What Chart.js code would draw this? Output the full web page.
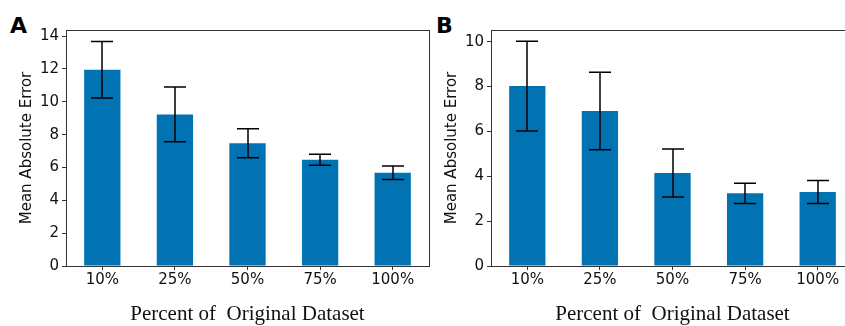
<!DOCTYPE html>
<html>
<head>
<meta charset="utf-8">
<script src="https://cdn.jsdelivr.net/npm/chart.js@4.4.0/dist/chart.umd.min.js"></script>
<style>
  body { margin: 0; width: 845px; height: 326px; overflow: hidden; background: #fff; position: relative; }
  canvas { position: absolute; top: 0; }
  .tag { position: absolute; font: bold 22px "DejaVu Sans"; line-height: 22px; color: #000; }
</style>
</head>
<body>
<div class="tag" style="left:10px; top:15px">A</div>
<div class="tag" style="left:436px; top:15px">B</div>
<canvas id="chartA" width="430" height="326" style="left:0"></canvas>
<canvas id="chartB" width="460" height="326" style="left:420px"></canvas>
<script>
// categories (share of the original dataset)
var categories = ['10%', '25%', '50%', '75%', '100%'];

// panel A: mean absolute error and error bar half-widths
var maeA = [11.95, 9.23, 7.47, 6.47, 5.68];
var errA = [1.72, 1.67, 0.88, 0.34, 0.41];

// panel B
var maeB = [8.02, 6.91, 4.15, 3.24, 3.30];
var errB = [2.0, 1.73, 1.07, 0.45, 0.51];

var barColor = '#0173b2';
var axisColor = '#333333';

// draws the +/- error bars with caps on top of the bars
var errorBarPlugin = {
  id: 'errorBars',
  afterDatasetsDraw: function(chart) {
    var ctx = chart.ctx;
    var yScale = chart.scales.y;
    var meta = chart.getDatasetMeta(0);
    var ds = chart.data.datasets[0];
    ctx.save();
    ctx.strokeStyle = '#000';
    ctx.lineWidth = 1.5;
    meta.data.forEach(function(bar, i) {
      var hi = yScale.getPixelForValue(ds.data[i] + ds.errors[i]);
      var lo = yScale.getPixelForValue(ds.data[i] - ds.errors[i]);
      var x = Math.round(bar.x);
      ctx.beginPath();
      ctx.moveTo(x, hi); ctx.lineTo(x, lo);
      ctx.moveTo(x - 11, hi); ctx.lineTo(x + 11, hi);
      ctx.moveTo(x - 11, lo); ctx.lineTo(x + 11, lo);
      ctx.stroke();
    });
    ctx.restore();
  }
};

// box around the plot area (matplotlib spines)
var framePlugin = {
  id: 'frame',
  afterDraw: function(chart) {
    var a = chart.chartArea;
    var ctx = chart.ctx;
    ctx.save();
    ctx.strokeStyle = axisColor;
    ctx.lineWidth = 1;
    ctx.strokeRect(Math.round(a.left) + 0.5, Math.round(a.top) + 0.5,
                   Math.round(a.right - a.left), Math.round(a.bottom - a.top));
    ctx.restore();
  }
};

function makeChart(id, values, errors, yMax, axisWidth, titlePad, rightPad) {
  return new Chart(document.getElementById(id), {
    type: 'bar',
    data: {
      labels: categories,
      datasets: [{
        data: values,
        errors: errors,
        backgroundColor: barColor,
        borderWidth: 0,
        barPercentage: 0.5,
        categoryPercentage: 1.0
      }]
    },
    options: {
      responsive: false,
      animation: false,
      layout: { padding: { top: 30, right: rightPad, left: 0, bottom: 0 } },
      plugins: { legend: { display: false }, tooltip: { enabled: false } },
      scales: {
        x: {
          offset: true,
          grid: { display: true, drawOnChartArea: false, drawTicks: true, tickLength: 4, offset: false, color: axisColor },
          border: { display: true, color: axisColor },
          ticks: { color: '#111', font: { family: 'DejaVu Sans', size: 15 }, padding: 1, maxRotation: 0, autoSkip: false },
          title: {
            display: true,
            text: 'Percent of  Original Dataset',
            color: '#111',
            font: { family: 'Liberation Serif', size: 21, lineHeight: 1.0 },
            padding: { top: 0, bottom: 1 }
          },
          afterFit: function(scale) { scale.height = 60; }
        },
        y: {
          min: 0,
          max: yMax,
          grid: { display: true, drawOnChartArea: false, drawTicks: true, tickLength: 4, color: axisColor },
          border: { display: true, color: axisColor },
          ticks: { stepSize: 2, includeBounds: false, color: '#111', font: { family: 'DejaVu Sans', size: 15 }, padding: 3 },
          title: {
            display: true,
            text: 'Mean Absolute Error',
            color: '#111',
            font: { family: 'DejaVu Sans', size: 15, lineHeight: 1.2 },
            padding: { top: titlePad, bottom: 0 }
          },
          afterFit: function(scale) { scale.width = axisWidth; }
        }
      }
    },
    plugins: [errorBarPlugin, framePlugin]
  });
}

makeChart('chartA', maeA, errA, 14.37, 66, 18, 1);
makeChart('chartB', maeB, errB, 10.52, 71, 23, 26);
</script>
</body>
</html>
